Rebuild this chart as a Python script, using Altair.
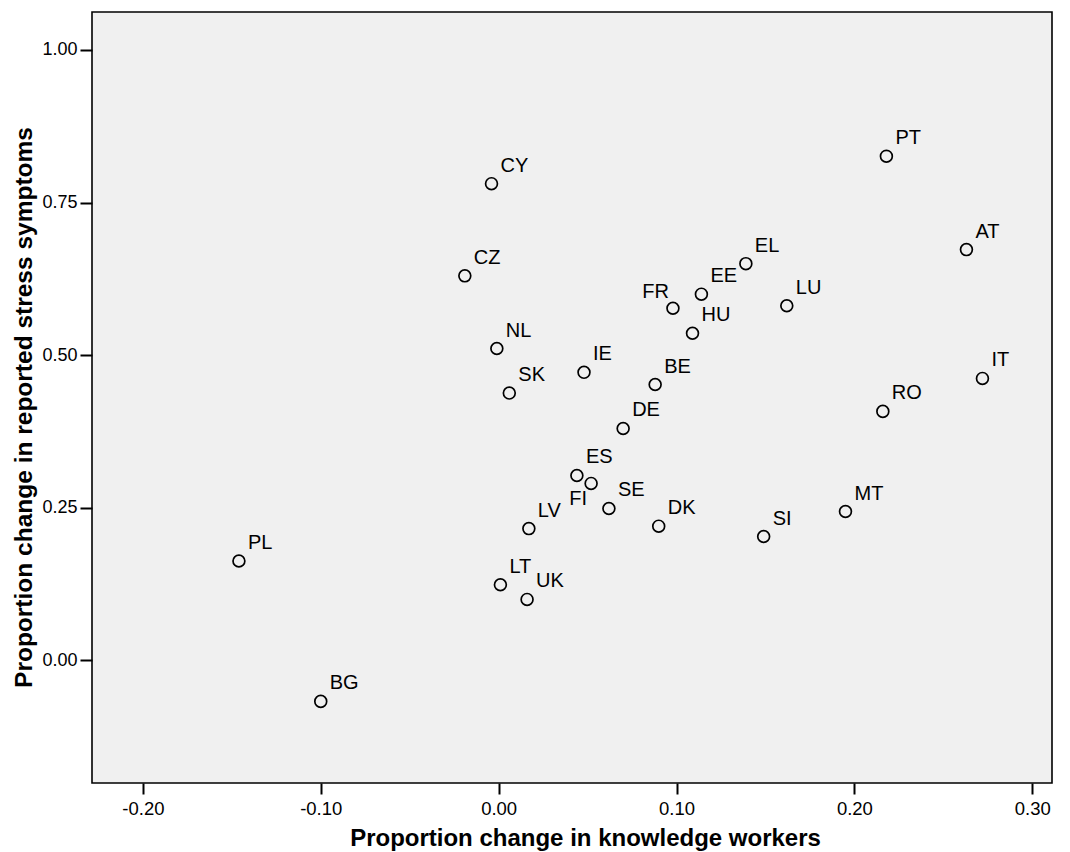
import altair as alt
import pandas as pd

countries = ["PL", "BG", "LV", "LT", "UK", "FI", "ES", "SE", "DK", "CY", "CZ", "NL", "SK", "IE",
             "BE", "DE", "FR", "EE", "HU", "EL", "LU", "PT", "AT", "IT", "RO", "MT", "SI"]
knowledge = [-0.146, -0.100, 0.017, 0.001, 0.016, 0.052, 0.044, 0.062, 0.090, -0.004, -0.019,
             -0.001, 0.006, 0.048, 0.088, 0.070, 0.098, 0.114, 0.109, 0.139, 0.162, 0.218, 0.263,
             0.272, 0.216, 0.195, 0.149]
stress = [0.163, -0.067, 0.216, 0.124, 0.100, 0.290, 0.303, 0.249, 0.220, 0.781, 0.630, 0.511,
          0.438, 0.472, 0.452, 0.380, 0.577, 0.600, 0.536, 0.650, 0.581, 0.826, 0.673, 0.462,
          0.408, 0.244, 0.203]
x_ticks = [-0.2, -0.1, 0.0, 0.1, 0.2, 0.3]
y_ticks = [0.0, 0.25, 0.5, 0.75, 1.0]

df = pd.DataFrame({"country": countries, "knowledge": knowledge, "stress": stress})

FONT = "Liberation Sans"
label_expr = "datum.value < 0 ? '-' + format(-datum.value, '.2f') : format(datum.value, '.2f')"

x_enc = alt.X(
    "knowledge:Q",
    scale=alt.Scale(domain=[-0.2286, 0.3111], nice=False, zero=False),
    axis=alt.Axis(
        values=x_ticks, labelExpr=label_expr, domain=False, grid=False,
        tickSize=11, tickWidth=2, tickColor="black",
        labelFont=FONT, labelFontSize=18.5, labelColor="black", labelPadding=5,
        labelFlush=False, labelOverlap=False,
        title="Proportion change in knowledge workers", titleFont=FONT,
        titleFontWeight="bold", titleFontSize=24, titleColor="black",
        titleX=493, titleY=62, titleAlign="center", titleBaseline="alphabetic",
    ),
)
y_enc = alt.Y(
    "stress:Q",
    scale=alt.Scale(domain=[-0.2007, 1.0622], nice=False, zero=False),
    axis=alt.Axis(
        values=y_ticks, labelExpr=label_expr, domain=False, grid=False,
        tickSize=12, tickWidth=2, tickColor="black",
        labelFont=FONT, labelFontSize=18, labelColor="black", labelPadding=3,
        labelFlush=False, labelOverlap=False,
        title="Proportion change in reported stress symptoms", titleFont=FONT,
        titleFontWeight="bold", titleFontSize=24.5, titleColor="black",
        titleAngle=270, titleX=-61, titleY=395, titleAlign="center",
        titleBaseline="alphabetic",
    ),
)

base = alt.Chart(df)

points = base.mark_point(
    shape="circle", filled=False, size=140, strokeWidth=1.7, color="black", opacity=1
).encode(x=x_enc, y=y_enc)

std_labels = base.transform_filter(
    "datum.country != 'FR' && datum.country != 'FI'"
).mark_text(
    align="left", baseline="alphabetic", dx=9, dy=-12, font=FONT, fontSize=20, color="black"
).encode(x=x_enc, y=y_enc, text="country:N")

fr_label = base.transform_filter("datum.country == 'FR'").mark_text(
    align="right", baseline="alphabetic", dx=-4, dy=-10, font=FONT, fontSize=20, color="black"
).encode(x=x_enc, y=y_enc, text="country:N")

fi_label = base.transform_filter("datum.country == 'FI'").mark_text(
    align="right", baseline="alphabetic", dx=-4, dy=22, font=FONT, fontSize=20, color="black"
).encode(x=x_enc, y=y_enc, text="country:N")

chart = alt.layer(points, std_labels, fr_label, fi_label).properties(
    width=960, height=771,
    autosize=alt.AutoSizeParams(type="none"),
    padding={"left": 84, "top": 4, "right": 10, "bottom": 68},
).configure_view(
    fill="#f0f0f0", stroke="black", strokeWidth=1.6
)

chart.save("out.html", embed_options={"renderer": "svg", "actions": False})
